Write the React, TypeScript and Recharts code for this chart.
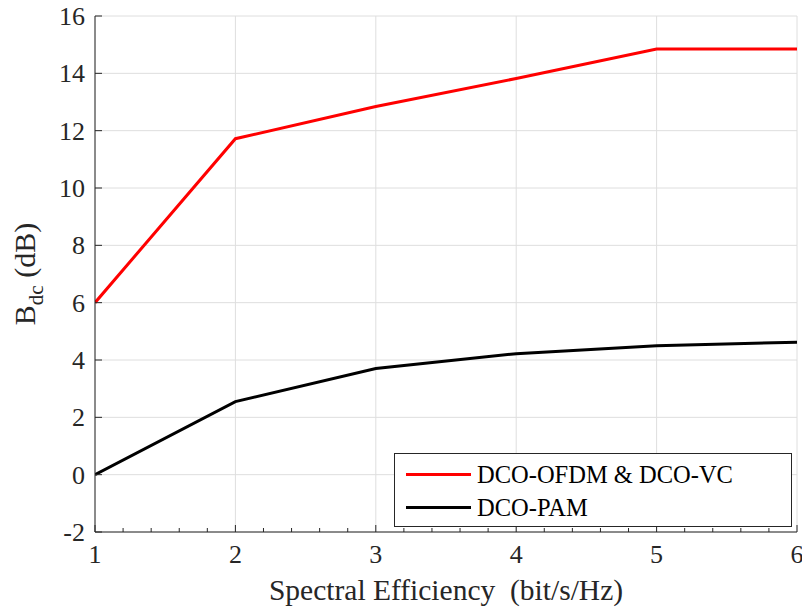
import { LineChart, Line, XAxis, YAxis, CartesianGrid, Legend } from 'recharts';

const spectralEfficiency = [1, 2, 3, 4, 5, 6];
const dcoOfdmVc = [6.0, 11.72, 12.84, 13.82, 14.85, 14.85];
const dcoPam = [0.0, 2.55, 3.7, 4.22, 4.5, 4.62];
const seriesNames = ['DCO-OFDM & DCO-VC', 'DCO-PAM'];

const xMajorTicks = [1, 2, 3, 4, 5, 6];
const xAllTicks = [
    1, 1.2, 1.4, 1.6, 1.8, 2, 2.2, 2.4, 2.6, 2.8, 3, 3.2, 3.4, 3.6, 3.8,
    4, 4.2, 4.4, 4.6, 4.8, 5, 5.2, 5.4, 5.6, 5.8, 6,
];
const yTicks = [-2, 0, 2, 4, 6, 8, 10, 12, 14, 16];

const FONT = 'Liberation Serif';
const INK = '#262626';
const GRID = '#dedede';

const data = spectralEfficiency.map((x, i) => ({
    x,
    ofdm: dcoOfdmVc[i],
    pam: dcoPam[i],
}));

const isMajor = (v: number) => Math.abs(v - Math.round(v)) < 1e-6;

const BottomTick = (props: any) => {
    const { x, y, payload } = props;
    const major = isMajor(payload.value);
    return (
        <g>
            <line x1={x} x2={x} y1={y} y2={y - (major ? 7 : 4)} stroke={INK} />
            {major && (
                <text x={x} y={y + 31} textAnchor="middle" fontFamily={FONT} fontSize={26} fill={INK}>
                    {payload.value}
                </text>
            )}
        </g>
    );
};

const TopTick = (props: any) => {
    const { x, y, payload } = props;
    const major = isMajor(payload.value);
    return <line x1={x} x2={x} y1={y} y2={y + (major ? 7 : 4)} stroke={INK} />;
};

const LeftTick = (props: any) => {
    const { x, y, payload } = props;
    return (
        <g>
            <line x1={x} x2={x + 7} y1={y} y2={y} stroke={INK} />
            <text x={x - 10} y={y + 9} textAnchor="end" fontFamily={FONT} fontSize={26} fill={INK}>
                {payload.value}
            </text>
        </g>
    );
};

const RightTick = (props: any) => {
    const { x, y } = props;
    return <line x1={x} x2={x - 7} y1={y} y2={y} stroke={INK} />;
};

const YLabel = (props: any) => {
    const vb = props.viewBox || { x: 0, y: 16, width: 95, height: 516 };
    const cx = vb.x + 35;
    const cy = vb.y + vb.height / 2;
    return (
        <text
            x={cx}
            y={cy}
            transform={`rotate(-90 ${cx} ${cy})`}
            textAnchor="middle"
            fontFamily={FONT}
            fontSize={30}
            fill={INK}
        >
            <tspan>B</tspan>
            <tspan dy={8} fontSize={21}>dc</tspan>
            <tspan dy={-8}> (dB)</tspan>
        </text>
    );
};

const XLabel = (props: any) => {
    const vb = props.viewBox || { x: 95, y: 532, width: 702, height: 75 };
    return (
        <text
            x={vb.x + vb.width / 2}
            y={vb.y + 68}
            textAnchor="middle"
            fontFamily={FONT}
            fontSize={29.5}
            fill={INK}
            style={{ whiteSpace: 'pre' }}
        >
            {'Spectral Efficiency  (bit/s/Hz)'}
        </text>
    );
};

const LegendBox = () => {
    const colors = ['#ff0000', '#000000'];
    return (
        <div
            style={{
                border: `1px solid ${INK}`,
                background: '#fff',
                padding: '4px 0 4px 11px',
                fontFamily: FONT,
                fontSize: 24.5,
                color: '#000',
                boxSizing: 'border-box',
                width: 398,
                height: 74,
            }}
        >
            {seriesNames.map((name, i) => (
                <div key={name} style={{ display: 'flex', alignItems: 'center', height: 33 }}>
                    <span
                        style={{
                            display: 'inline-block',
                            width: 65,
                            height: 3,
                            background: colors[i],
                            marginRight: 6,
                        }}
                    />
                    <span>{name}</span>
                </div>
            ))}
        </div>
    );
};

export default function App() {
    return (
        <div style={{ position: 'absolute', left: 0, top: 0, background: '#fff', fontFamily: FONT }}>
            <LineChart
                width={802}
                height={607}
                data={data}
                margin={{ top: 16, right: 5, left: 0, bottom: 0 }}
            >
                <CartesianGrid
                    stroke={GRID}
                    verticalValues={xMajorTicks}
                    horizontalValues={yTicks}
                />
                <XAxis
                    dataKey="x"
                    type="number"
                    domain={[1, 6]}
                    ticks={xAllTicks}
                    interval={0}
                    height={75}
                    tickSize={0}
                    tickMargin={0}
                    tickLine={false}
                    tick={BottomTick}
                    axisLine={{ stroke: INK }}
                    allowDataOverflow
                    label={XLabel}
                />
                <XAxis
                    xAxisId="top"
                    dataKey="x"
                    type="number"
                    orientation="top"
                    domain={[1, 6]}
                    ticks={xAllTicks}
                    interval={0}
                    height={0}
                    tickSize={0}
                    tickMargin={0}
                    tickLine={false}
                    tick={TopTick}
                    axisLine={{ stroke: INK }}
                    allowDataOverflow
                />
                <YAxis
                    type="number"
                    domain={[-2, 16]}
                    ticks={yTicks}
                    interval={0}
                    width={95}
                    tickSize={0}
                    tickMargin={0}
                    tickLine={false}
                    tick={LeftTick}
                    axisLine={{ stroke: INK }}
                    allowDataOverflow
                    label={YLabel}
                />
                <YAxis
                    yAxisId="right"
                    orientation="right"
                    type="number"
                    domain={[-2, 16]}
                    ticks={yTicks}
                    interval={0}
                    width={0}
                    tickSize={0}
                    tickMargin={0}
                    tickLine={false}
                    tick={RightTick}
                    axisLine={{ stroke: INK }}
                    allowDataOverflow
                />
                <Line
                    type="linear"
                    dataKey="ofdm"
                    name={seriesNames[0]}
                    stroke="#ff0000"
                    strokeWidth={3}
                    dot={false}
                    isAnimationActive={false}
                />
                <Line
                    type="linear"
                    dataKey="pam"
                    name={seriesNames[1]}
                    stroke="#000000"
                    strokeWidth={3}
                    dot={false}
                    isAnimationActive={false}
                />
                <Legend
                    layout="vertical"
                    align="center"
                    verticalAlign="middle"
                    content={LegendBox}
                    wrapperStyle={{ left: 394, top: 453, width: 398, height: 74 }}
                />
            </LineChart>
        </div>
    );
}
